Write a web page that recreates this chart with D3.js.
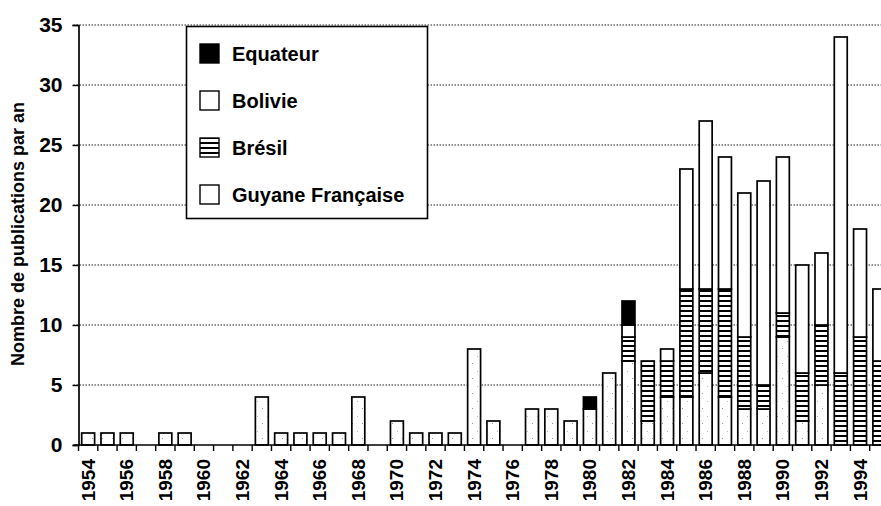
<!DOCTYPE html>
<html lang="fr">
<head>
    <meta charset="UTF-8">
    <title>Nombre de publications par an</title>
    <script src="https://cdn.jsdelivr.net/npm/d3@7/dist/d3.min.js"></script>
    <style>
        body { margin: 0; background: #fff; }
        svg { display: block; font-family: "Liberation Sans", Arial, sans-serif; }
    </style>
</head>
<body>
<script type="application/javascript">
    // années (catégories)
    const years = [1954, 1955, 1956, 1957, 1958, 1959, 1960, 1961, 1962, 1963,
        1964, 1965, 1966, 1967, 1968, 1969, 1970, 1971, 1972, 1973,
        1974, 1975, 1976, 1977, 1978, 1979, 1980, 1981, 1982, 1983,
        1984, 1985, 1986, 1987, 1988, 1989, 1990, 1991, 1992, 1993,
        1994, 1995];
    // séries, de bas en haut
    const guyane = [1, 1, 1, 0, 1, 1, 0, 0, 0, 4,
        1, 1, 1, 1, 4, 0, 2, 1, 1, 1,
        8, 2, 0, 3, 3, 2, 3, 6, 7, 2,
        4, 4, 6, 4, 3, 3, 9, 2, 5, 0,
        0, 0];
    const bresil = [0, 0, 0, 0, 0, 0, 0, 0, 0, 0,
        0, 0, 0, 0, 0, 0, 0, 0, 0, 0,
        0, 0, 0, 0, 0, 0, 0, 0, 2, 5,
        3, 9, 7, 9, 6, 2, 2, 4, 5, 6,
        9, 7];
    const bolivie = [0, 0, 0, 0, 0, 0, 0, 0, 0, 0,
        0, 0, 0, 0, 0, 0, 0, 0, 0, 0,
        0, 0, 0, 0, 0, 0, 0, 0, 1, 0,
        1, 10, 14, 11, 12, 17, 13, 9, 6, 28,
        9, 6];
    const equateur = [0, 0, 0, 0, 0, 0, 0, 0, 0, 0,
        0, 0, 0, 0, 0, 0, 0, 0, 0, 0,
        0, 0, 0, 0, 0, 0, 1, 0, 2, 0,
        0, 0, 0, 0, 0, 0, 0, 0, 0, 0,
        0, 0];
    const keys = ['Guyane Française', 'Brésil', 'Bolivie', 'Equateur'];
    const legendOrder = ['Equateur', 'Bolivie', 'Brésil', 'Guyane Française'];
    const yTicks = [0, 5, 10, 15, 20, 25, 30, 35];

    const rows = years.map((y, i) => ({
        year: y,
        'Guyane Française': guyane[i],
        'Brésil': bresil[i],
        'Bolivie': bolivie[i],
        'Equateur': equateur[i]
    }));

    const w = 881, h = 506;
    const mLeft = 78.5, mBottom = 445, mTop = 25, mRight = 889;

    let svg = d3.select('body')
        .append('svg')
        .attr('width', w)
        .attr('height', h);

    // motifs
    let defs = svg.append('defs');
    let stripes = defs.append('pattern')
        .attr('id', 'stripes')
        .attr('patternUnits', 'userSpaceOnUse')
        .attr('width', 6).attr('height', 5);
    stripes.append('rect').attr('width', 6).attr('height', 5).attr('fill', '#fff');
    stripes.append('rect').attr('y', 0).attr('width', 6).attr('height', 2).attr('fill', '#000');

    let dots = defs.append('pattern')
        .attr('id', 'dots')
        .attr('patternUnits', 'userSpaceOnUse')
        .attr('width', 10).attr('height', 15);
    dots.append('rect').attr('width', 10).attr('height', 15).attr('fill', '#fff');
    dots.append('rect').attr('x', 2).attr('y', 3).attr('width', 1).attr('height', 1).attr('fill', '#999');
    dots.append('rect').attr('x', 7).attr('y', 11).attr('width', 1).attr('height', 1).attr('fill', '#bbb');

    const fills = {
        'Guyane Française': 'url(#dots)',
        'Brésil': 'url(#stripes)',
        'Bolivie': '#fff',
        'Equateur': '#000'
    };

    let xScale = d3.scaleBand()
        .domain(years)
        .range([mLeft, mRight])
        .paddingInner(0.33)
        .paddingOuter(0.165);

    let yScale = d3.scaleLinear()
        .domain([0, 35])
        .range([mBottom, mTop]);

    // grille pointillée
    svg.append('g')
        .selectAll('line')
        .data(yTicks.filter(d => d > 0))
        .enter()
        .append('line')
        .attr('x1', mLeft - 5)
        .attr('x2', w)
        .attr('y1', d => yScale(d))
        .attr('y2', d => yScale(d))
        .attr('stroke', '#222')
        .attr('stroke-width', 1.2)
        .attr('stroke-dasharray', '1.5,1.5');

    // barres empilées
    let series = d3.stack().keys(keys)(rows);
    svg.append('g')
        .selectAll('g')
        .data(series)
        .enter()
        .append('g')
        .attr('fill', d => fills[d.key])
        .selectAll('rect')
        .data(d => d.filter(p => p[1] - p[0] > 0))
        .enter()
        .append('rect')
        .attr('x', d => xScale(d.data.year))
        .attr('y', d => yScale(d[1]))
        .attr('width', xScale.bandwidth())
        .attr('height', d => yScale(d[0]) - yScale(d[1]))
        .attr('stroke', '#000')
        .attr('stroke-width', 1.7);

    // axe Y
    let yAxis = svg.append('g')
        .attr('transform', `translate(${mLeft},0)`)
        .call(d3.axisLeft(yScale).tickValues(yTicks).tickSize(6).tickPadding(10));
    yAxis.select('.domain').attr('stroke', '#000').attr('stroke-width', 1.7);
    yAxis.selectAll('line').attr('stroke', '#000').attr('stroke-width', 1.4);
    yAxis.selectAll('text')
        .attr('font-size', '21px')
        .attr('font-weight', 'bold')
        .attr('fill', '#000')
        .attr('font-family', '"Liberation Sans", Arial, sans-serif');

    // axe X : traits aux limites des catégories
    let step = xScale.step();
    let edge = xScale.paddingInner() * step / 2;
    svg.append('line')
        .attr('x1', mLeft - 5).attr('x2', w)
        .attr('y1', mBottom).attr('y2', mBottom)
        .attr('stroke', '#000').attr('stroke-width', 1.7);
    svg.append('g')
        .selectAll('line')
        .data(years)
        .enter()
        .append('line')
        .attr('x1', d => xScale(d) - edge)
        .attr('x2', d => xScale(d) - edge)
        .attr('y1', mBottom)
        .attr('y2', mBottom + 6)
        .attr('stroke', '#000')
        .attr('stroke-width', 1.4);

    svg.append('g')
        .selectAll('text')
        .data(years.filter(d => d % 2 === 0))
        .enter()
        .append('text')
        .text(d => d)
        .attr('transform', d => `translate(${xScale(d) + xScale.bandwidth() / 2 + 6.5},459) rotate(-90)`)
        .attr('text-anchor', 'end')
        .attr('font-size', '19px')
        .attr('font-weight', 'bold')
        .attr('fill', '#000');

    // titre de l'axe Y
    svg.append('text')
        .text('Nombre de publications par an')
        .attr('transform', 'translate(24,234) rotate(-90)')
        .attr('text-anchor', 'middle')
        .attr('font-size', '18px')
        .attr('font-weight', 'bold')
        .attr('fill', '#000');

    // légende
    let legend = svg.append('g');
    legend.append('rect')
        .attr('x', 186.5).attr('y', 26.5)
        .attr('width', 241).attr('height', 192)
        .attr('fill', '#fff')
        .attr('stroke', '#000')
        .attr('stroke-width', 1.6);
    let items = legend.selectAll('g')
        .data(legendOrder)
        .enter()
        .append('g')
        .attr('transform', (d, i) => `translate(200,${53 + i * 47})`);
    items.append('rect')
        .attr('x', 0).attr('y', -9)
        .attr('width', 19).attr('height', 19)
        .attr('fill', d => fills[d] === 'url(#dots)' ? '#fff' : fills[d])
        .attr('stroke', '#000')
        .attr('stroke-width', 1.4);
    items.append('text')
        .text(d => d)
        .attr('x', 32)
        .attr('y', 8)
        .attr('font-size', '20px')
        .attr('font-weight', 'bold')
        .attr('fill', '#000');
</script>
</body>
</html>
